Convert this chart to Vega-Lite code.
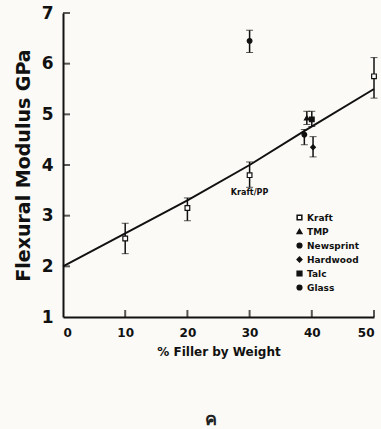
{
  "$schema": "https://vega.github.io/schema/vega-lite/v6.json",
  "width": 311,
  "height": 304,
  "autosize": "none",
  "padding": {"left": 63, "top": 13, "right": 7, "bottom": 112},
  "background": "#fbfaf6",
  "title": {"text": "ค", "orient": "bottom", "offset": 54, "fontSize": 18, "font": "Noto Sans", "fontWeight": "bold", "color": "#222", "dx": -8},
  "config": {
    "view": {"stroke": null},
    "axis": {"grid": false, "domainColor": "#111", "tickColor": "#111", "domainWidth": 2, "labelColor": "#111", "titleColor": "#111", "labelFont": "DejaVu Sans", "titleFont": "DejaVu Sans", "labelFontWeight": "bold", "titleFontWeight": "bold", "ticks": false}
  },
  "datasets": {
    "fit": [
      {"x": 0, "y": 2.0},
      {"x": 10, "y": 2.65},
      {"x": 20, "y": 3.3},
      {"x": 30, "y": 4.0},
      {"x": 38.5, "y": 4.65},
      {"x": 50, "y": 5.5}
    ],
    "pts": [
      {"material": "Kraft", "x": 10, "y": 2.55, "lo": 2.25, "hi": 2.85},
      {"material": "Kraft", "x": 20, "y": 3.15, "lo": 2.9, "hi": 3.35},
      {"material": "Kraft", "x": 30, "y": 3.8, "lo": 3.56, "hi": 4.06},
      {"material": "Kraft", "x": 50, "y": 5.75, "lo": 5.32, "hi": 6.12},
      {"material": "TMP", "x": 39.2, "y": 4.93, "lo": 4.8, "hi": 5.06},
      {"material": "Newsprint", "x": 38.8, "y": 4.6, "lo": 4.4, "hi": 4.7},
      {"material": "Hardwood", "x": 40.2, "y": 4.35, "lo": 4.16, "hi": 4.56},
      {"material": "Talc", "x": 40.0, "y": 4.9, "lo": 4.76, "hi": 5.06},
      {"material": "Glass", "x": 30, "y": 6.45, "lo": 6.22, "hi": 6.66}
    ],
    "lab": [
      {"x": 30, "y": 3.45, "t": "Kraft/PP"}
    ],
    "xt": [{"x": 10, "y": 1}, {"x": 20, "y": 1}, {"x": 30, "y": 1}, {"x": 40, "y": 1}, {"x": 50, "y": 1}],
    "yt": [{"x": 0, "y": 2}, {"x": 0, "y": 3}, {"x": 0, "y": 4}, {"x": 0, "y": 5}, {"x": 0, "y": 6}, {"x": 0, "y": 7}]
  },
  "layer": [
    {
      "data": {"name": "fit"},
      "mark": {"type": "line", "color": "#111", "strokeWidth": 2},
      "encoding": {
        "x": {"field": "x", "type": "quantitative", "title": "% Filler by Weight", "scale": {"domain": [0, 50], "nice": false}, "axis": {"values": [0, 10, 20, 30, 40, 50], "labelPadding": 10, "labelFontSize": 12, "titleFontSize": 12, "titlePadding": 8}},
        "y": {"field": "y", "type": "quantitative", "title": "Flexural Modulus GPa", "scale": {"domain": [1, 7], "nice": false, "zero": false}, "axis": {"values": [1, 2, 3, 4, 5, 6, 7], "labelPadding": 10, "labelFontSize": 17, "titleFontSize": 19, "titlePadding": 8}}
      }
    },
    {
      "data": {"name": "xt"},
      "mark": {"type": "tick", "orient": "vertical", "color": "#111", "thickness": 2, "size": 7, "yOffset": -3.5},
      "encoding": {
        "x": {"field": "x", "type": "quantitative", "title": "% Filler by Weight"},
        "y": {"field": "y", "type": "quantitative", "title": "Flexural Modulus GPa"}
      }
    },
    {
      "data": {"name": "yt"},
      "mark": {"type": "tick", "orient": "horizontal", "color": "#111", "thickness": 2, "size": 7, "xOffset": 3.5},
      "encoding": {
        "x": {"field": "x", "type": "quantitative", "title": "% Filler by Weight"},
        "y": {"field": "y", "type": "quantitative", "title": "Flexural Modulus GPa"}
      }
    },
    {
      "data": {"name": "pts"},
      "mark": {"type": "errorbar", "ticks": {"size": 7, "color": "#111", "strokeWidth": 2}, "rule": {"color": "#111", "strokeWidth": 1.5}},
      "encoding": {
        "x": {"field": "x", "type": "quantitative", "title": "% Filler by Weight"},
        "y": {"field": "lo", "type": "quantitative", "title": "Flexural Modulus GPa"},
        "y2": {"field": "hi"}
      }
    },
    {
      "data": {"name": "pts"},
      "mark": {"type": "point", "size": 22, "stroke": "#111", "strokeWidth": 1.2, "opacity": 1},
      "encoding": {
        "x": {"field": "x", "type": "quantitative", "title": "% Filler by Weight"},
        "y": {"field": "y", "type": "quantitative", "title": "Flexural Modulus GPa"},
        "shape": {"field": "material", "type": "nominal", "sort": ["Kraft", "TMP", "Newsprint", "Hardwood", "Talc", "Glass"], "scale": {"domain": ["Kraft", "TMP", "Newsprint", "Hardwood", "Talc", "Glass"], "range": ["square", "triangle-up", "circle", "diamond", "square", "circle"]}, "legend": {"title": null, "orient": "none", "legendX": 232, "legendY": 200, "labelFont": "DejaVu Sans", "labelFontWeight": "bold", "labelFontSize": 9, "labelColor": "#111", "symbolSize": 22, "rowPadding": 3, "labelOffset": 3}},
        "fill": {"field": "material", "type": "nominal", "sort": ["Kraft", "TMP", "Newsprint", "Hardwood", "Talc", "Glass"], "scale": {"domain": ["Kraft", "TMP", "Newsprint", "Hardwood", "Talc", "Glass"], "range": ["#ffffff", "#111111", "#111111", "#111111", "#111111", "#111111"]}, "legend": {"title": null, "orient": "none", "legendX": 232, "legendY": 200, "labelFont": "DejaVu Sans", "labelFontWeight": "bold", "labelFontSize": 9, "labelColor": "#111", "symbolSize": 22, "rowPadding": 3, "labelOffset": 3}}
      }
    },
    {
      "data": {"name": "lab"},
      "mark": {"type": "text", "font": "DejaVu Sans", "fontWeight": "bold", "fontSize": 8, "color": "#111"},
      "encoding": {
        "x": {"field": "x", "type": "quantitative", "title": "% Filler by Weight"},
        "y": {"field": "y", "type": "quantitative", "title": "Flexural Modulus GPa"},
        "text": {"field": "t"}
      }
    }
  ]
}
